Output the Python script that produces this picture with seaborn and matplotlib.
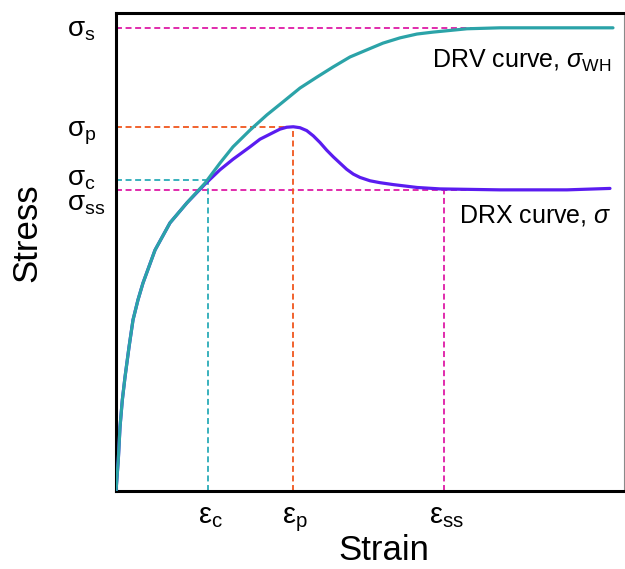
import pandas
import matplotlib
matplotlib.use("Agg")
import matplotlib.pyplot as plt
import matplotlib.transforms as mtransforms
import seaborn as sns

sns.set_style("white")
plt.rcParams["font.family"] = ["Liberation Sans", "DejaVu Sans"]
plt.rcParams["mathtext.fontset"] = "custom"
plt.rcParams["mathtext.rm"] = "Liberation Sans"
plt.rcParams["mathtext.it"] = "Liberation Sans:italic"
plt.rcParams["text.color"] = "black"
plt.rcParams["axes.labelcolor"] = "black"

teal = "#2ba3a8"
violet = "#5a1cf0"
orange = "#f0561e"
magenta = "#de1aa6"
tealDash = "#2aabb8"

# shared hardening branch (both curves)
strainCommon = [0.0, 0.0045, 0.0079, 0.0124, 0.0177, 0.0256, 0.0335, 0.0433, 0.0531, 0.0768, 0.1063, 0.1398]
stressCommon = [0.0, 0.065, 0.134, 0.190, 0.238, 0.301, 0.358, 0.400, 0.435, 0.504, 0.561, 0.603]

strainDRV = [0.1752, 0.2047, 0.2303, 0.2638, 0.2972, 0.3287, 0.3622, 0.3957, 0.4272, 0.4606,
             0.4941, 0.5256, 0.5591, 0.5925, 0.6240, 0.6909, 0.7559, 0.9783]
stressDRV = [0.644, 0.686, 0.720, 0.755, 0.787, 0.814, 0.843, 0.866, 0.887, 0.908,
             0.923, 0.937, 0.948, 0.956, 0.960, 0.967, 0.969, 0.969]

strainDRX = [0.1752, 0.2047, 0.2303, 0.2638, 0.2835, 0.2966, 0.3096, 0.3228, 0.3360, 0.3490,
             0.3622, 0.3754, 0.3884, 0.4016, 0.4148, 0.4278, 0.4409, 0.4541, 0.4671, 0.4803,
             0.5000, 0.5197, 0.5459, 0.5925, 0.6378, 0.7559, 0.8878, 0.9724]
stressDRX = [0.642, 0.672, 0.694, 0.720, 0.736, 0.743, 0.750, 0.757, 0.761, 0.762,
             0.760, 0.754, 0.743, 0.729, 0.713, 0.699, 0.686, 0.673, 0.663, 0.656,
             0.649, 0.645, 0.641, 0.635, 0.632, 0.630, 0.630, 0.633]

# characteristic points
epsC, epsP, epsSS = 0.181, 0.348, 0.646
sigS, sigP, sigC, sigSS = 0.969, 0.762, 0.651, 0.630
refEnd = 0.888

rows = []
for name, xs, ys in [("DRX", strainDRX, stressDRX), ("DRV", strainDRV, stressDRV)]:
    for x, y in zip(strainCommon + xs, stressCommon + ys):
        rows.append({"strain": x, "stress": y, "curve": name})
df = pandas.DataFrame(rows)

fig = plt.figure(figsize=(6.25, 5.69), dpi=100)
ax = fig.add_axes([116 / 625, 78 / 569, 508 / 625, 478 / 569])

dash = dict(lw=1.3, dashes=(3.3, 2.0), zorder=1)
ax.plot([0, refEnd], [sigS, sigS], color=magenta, **dash)
ax.plot([0, refEnd], [sigSS, sigSS], color=magenta, **dash)
ax.plot([epsSS, epsSS], [0, sigSS], color=magenta, **dash)
ax.plot([0, epsP], [sigP, sigP], color=orange, **dash)
ax.plot([epsP, epsP], [0, sigP], color=orange, **dash)
ax.plot([0, epsC], [sigC, sigC], color=tealDash, **dash)
ax.plot([epsC, epsC], [0, sigC], color=tealDash, **dash)

sns.lineplot(data=df, x="strain", y="stress", hue="curve", palette={"DRX": violet, "DRV": teal},
             hue_order=["DRX", "DRV"], sort=False, estimator=None, legend=False, lw=2.3, ax=ax, zorder=3)
for line in ax.lines[-2:]:
    line.set_solid_joinstyle("round")
    line.set_solid_capstyle("round")

ax.set_xlim(0, 1)
ax.set_ylim(0, 1)
ax.set_xticks([])
ax.set_yticks([])

for side in ["left", "top", "bottom"]:
    ax.spines[side].set_linewidth(2.2)
    ax.spines[side].set_color("black")
ax.spines["right"].set_linewidth(0.8)
ax.spines["right"].set_color("#8a8a8a")

# stress labels on the left
ytrans = mtransforms.blended_transform_factory(ax.transAxes, ax.transData)
for val, lab, off in [(sigS, r"$\mathrm{σ_s}$", -6), (sigP, r"$\mathrm{σ_p}$", -7),
                      (sigC, r"$\mathrm{σ_c}$", -4.0), (sigSS, r"$\mathrm{σ_{ss}}$", -15.0)]:
    t = mtransforms.offset_copy(ytrans, fig=fig, x=0, y=off, units="points")
    ax.text(-0.0965, val, lab, transform=t, ha="left", va="baseline", fontsize=20)

# strain labels below
xtrans = mtransforms.blended_transform_factory(ax.transData, ax.transAxes)
for val, lab in [(epsC, r"$\mathrm{ε_c}$"), (epsP, r"$\mathrm{ε_p}$"), (epsSS, r"$\mathrm{ε_{ss}}$")]:
    ax.text(val + 0.005, -0.067, lab, transform=xtrans, ha="center", va="baseline", fontsize=21)

ax.text(0.976, 0.885, r"DRV curve, $\mathit{σ}_{\mathrm{WH}}$", transform=ax.transData,
        ha="right", va="baseline", fontsize=18)
ax.text(0.976, 0.561, r"DRX curve, $\mathit{σ}$", transform=ax.transData,
        ha="right", va="baseline", fontsize=18)

ax.set_xlabel("Strain", fontsize=25, labelpad=31)
ax.xaxis.label.set_x(0.528)
ax.set_ylabel("Stress", fontsize=25, labelpad=52)
ax.yaxis.label.set_y(0.54)

fig.savefig("out.png", dpi=100)
